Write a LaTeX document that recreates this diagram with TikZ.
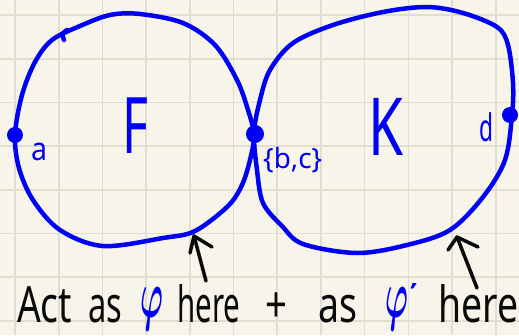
\documentclass[tikz,border=0pt]{standalone}
\usepackage{fontspec}
\setmainfont{Noto Sans}
\usepackage{graphicx}
\definecolor{paper}{HTML}{F7F5EA}
\definecolor{gridc}{HTML}{E1DED1}
\definecolor{ink}{RGB}{0,0,245}
\definecolor{pen}{RGB}{10,10,10}
\tikzset{
  gridline/.style={gridc, line width=1.6pt},
  blobline/.style={ink, line width=4.5pt, line cap=round, line join=round},
  vertexdot/.style={circle, fill=ink, inner sep=0pt, minimum size=17pt},
  bluelabel/.style={ink, inner sep=0pt, anchor=base west},
  word/.style={pen, inner sep=0pt, anchor=base west, font=\fontsize{50}{50}\selectfont},
  pointer/.style={pen, line width=3.5pt, line cap=round, line join=round}
}
\newcommand{\bigphi}{\resizebox*{23pt}{43pt}{\boldmath$\varphi$}}
\begin{document}
\begin{tikzpicture}[x=1pt,y=-1pt]
\fill[paper] (0,0) rectangle (519,335);
\useasboundingbox (0,0) rectangle (519,335);
\foreach \i in {0,...,11} {\draw[gridline] ({15+43.7*\i},0) -- ++(0,335);}
\foreach \j in {0,...,7} {\draw[gridline] (0,{15+43.7*\j}) -- ++(519,0);}

% left blob F
\draw[blobline] plot[smooth cycle, tension=0.55] coordinates {
 (15,135) (22,95) (35,62) (52,40) (80,26) (110,15) (140,14) (183,23)
 (215,45) (237,80) (248,110) (254,135) (250,160) (242,185) (228,206) (195,231)
 (163,238) (103,246) (60,230) (33,200) (19,168)};
\draw[blobline] (67,30) -- (62,34) -- (64,40);

% right blob K
\draw[blobline] plot[smooth cycle, tension=0.55] coordinates {
 (254,133) (260,100) (270,70) (293,43) (333,25) (383,12) (427,7)
 (463,13) (497,27) (508,45) (513,83) (512,115) (505,160) (483,197)
 (450,230) (407,245) (357,253) (303,244) (282,226) (263,203) (257,170)};

% dots
\node[vertexdot, minimum size=16pt] (a) at (15,135) {};
\node[vertexdot, minimum size=18pt] (bc) at (255,134) {};
\node[vertexdot, minimum size=16pt] (d) at (510,115) {};

% labels
\node[bluelabel, font=\fontsize{78}{78}\selectfont] (F) at (122,153) {\resizebox{26pt}{\height}{F}};
\node[bluelabel, font=\fontsize{80}{80}\selectfont] (K) at (368,155) {\resizebox{35pt}{\height}{K}};
\node[bluelabel, font=\fontsize{32}{32}\selectfont] (la) at (31,160) {\resizebox{16pt}{\height}{a}};
\node[bluelabel, font=\fontsize{38}{38}\selectfont] (ld) at (479,141) {\resizebox{14pt}{\height}{d}};
\node[bluelabel, font=\fontsize{28}{28}\selectfont] (lbc) at (263,168) {\resizebox{59pt}{\height}{\{b,c\}}};

% bottom text
\node[word] (w1) at (17,322) {\resizebox{55pt}{\height}{Act}};
\node[word] (w2) at (88,322) {\resizebox{34pt}{\height}{as}};
\node[word, ink] (w3) at (140,317) {\bigphi};
\node[word] (w4) at (177,322) {\resizebox{63pt}{\height}{here}};
\node[word] (w5) at (265,322) {\resizebox{22pt}{\height}{+}};
\node[word] (w6) at (318,322) {\resizebox{39pt}{\height}{as}};
\node[word, ink] (w7) at (385,317) {\bigphi\kern2pt\raisebox{18pt}{\resizebox*{7pt}{16pt}{\textquoteright}}};
\node[word] (w8) at (438,322) {\resizebox{80pt}{\height}{here}};

% arrows
\coordinate (t1) at (194,236);
\coordinate (s1) at (206,281);
\coordinate (t2) at (457,237);
\coordinate (s2) at (477,288);
\draw[pointer] (s1) -- (t1);
\draw[pointer] (190,253) -- (t1) -- (212,247);
\draw[pointer] (s2) -- (t2);
\draw[pointer] (448,250) -- (t2) -- (478,247);
\end{tikzpicture}
\end{document}
